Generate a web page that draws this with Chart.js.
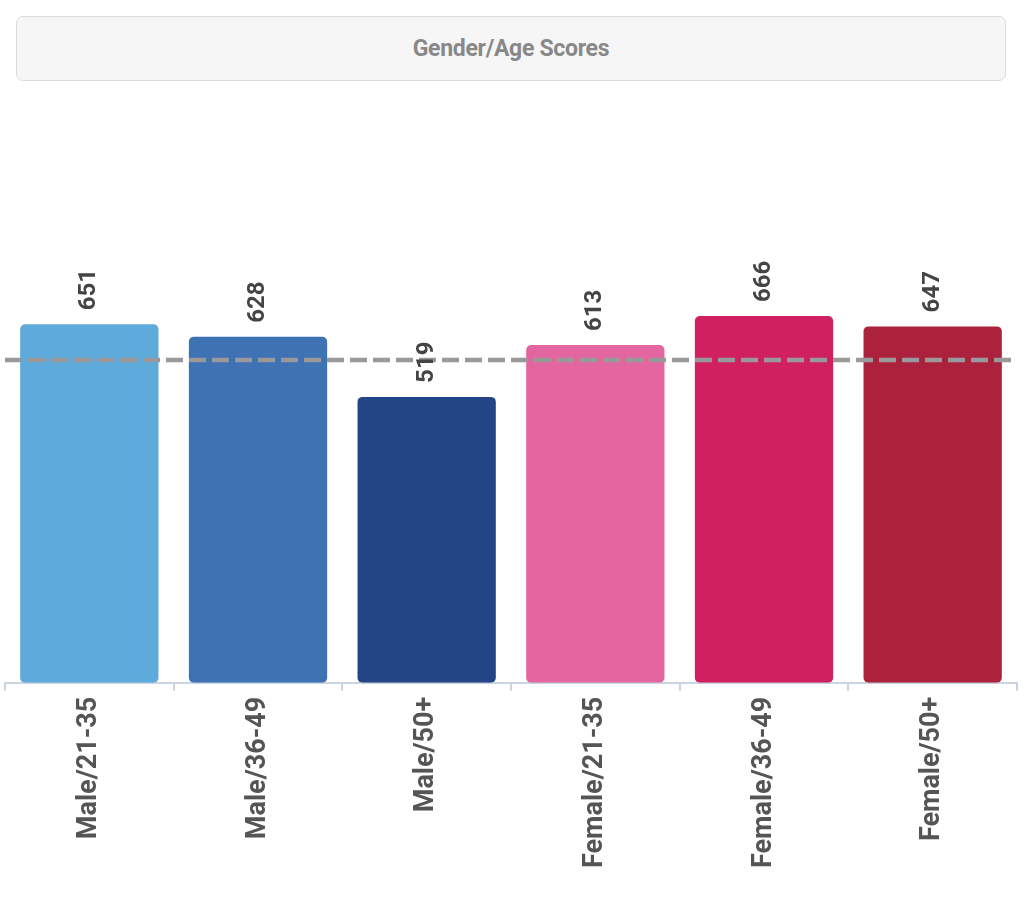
<!DOCTYPE html>
<html>
<head>
<meta charset="utf-8">
<script src="https://cdn.jsdelivr.net/npm/chart.js@4.4.1/dist/chart.umd.min.js"></script>
<style>
  html, body { margin: 0; padding: 0; background: #fff; }
  #wrap { position: relative; width: 1024px; height: 916px; }
  #title {
    position: absolute; left: 16px; top: 16px; width: 988px; height: 63px;
    background: #f6f6f6; border: 1px solid #dcdcdc; border-radius: 7px;
    font-family: Roboto, sans-serif; font-weight: 700; font-size: 23px;
    color: #888; display: flex; align-items: center; justify-content: center;
    letter-spacing: -0.3px;
  }
  canvas { position: absolute; left: 0; top: 0; }
</style>
</head>
<body>
<div id="wrap">
  <div id="title">Gender/Age Scores</div>
  <canvas id="scoreChart" width="1024" height="916"></canvas>
</div>
<script>
// 類別與分數
const groups = ["Male/21-35", "Male/36-49", "Male/50+", "Female/21-35", "Female/36-49", "Female/50+"];
const scores = [651, 628, 519, 613, 666, 647];
const barColors = ["#5daadb", "#3f72b3", "#234586", "#e366a0", "#d12060", "#ac213c"];
const benchmark = 586; // 虛線基準
const yMax = 1000;

// 虛線與數值標籤
const overlayPlugin = {
  id: "overlay",
  afterDatasetsDraw(chart) {
    const { ctx, chartArea, scales } = chart;
    const y = scales.y.getPixelForValue(benchmark);
    ctx.save();
    ctx.strokeStyle = "#999";
    ctx.lineWidth = 4.5;
    ctx.setLineDash([17, 6]);
    ctx.beginPath();
    ctx.moveTo(chartArea.left, y);
    ctx.lineTo(chartArea.right, y);
    ctx.stroke();
    ctx.restore();

    ctx.save();
    ctx.fillStyle = "#444";
    ctx.font = "700 24px Roboto";
    ctx.textAlign = "left";
    ctx.textBaseline = "middle";
    chart.getDatasetMeta(0).data.forEach((bar, i) => {
      ctx.save();
      ctx.translate(bar.x, bar.y - 14);
      ctx.rotate(-Math.PI / 2);
      ctx.fillText(String(scores[i]), 0, 0);
      ctx.restore();
    });
    ctx.restore();
  }
};

new Chart(document.getElementById("scoreChart"), {
  type: "bar",
  data: {
    labels: groups,
    datasets: [{
      data: scores,
      backgroundColor: barColors,
      borderRadius: 5,
      borderSkipped: false,
      categoryPercentage: 1,
      barPercentage: 0.82
    }]
  },
  options: {
    responsive: false,
    animation: false,
    layout: { padding: { top: 132, left: 5, right: 7, bottom: 42 } },
    plugins: { legend: { display: false }, tooltip: { enabled: false }, title: { display: false } },
    scales: {
      y: { display: false, min: 0, max: yMax },
      x: {
        border: { color: "#c9d5e2", width: 2 },
        grid: { offset: true, drawOnChartArea: false, color: "#c9d5e2", tickLength: 8, lineWidth: 2 },
        ticks: {
          minRotation: 90, maxRotation: 90, padding: 6,
          color: "#555", font: { family: "Roboto", weight: "700", size: 27 }
        }
      }
    }
  },
  plugins: [overlayPlugin]
});
</script>
</body>
</html>
